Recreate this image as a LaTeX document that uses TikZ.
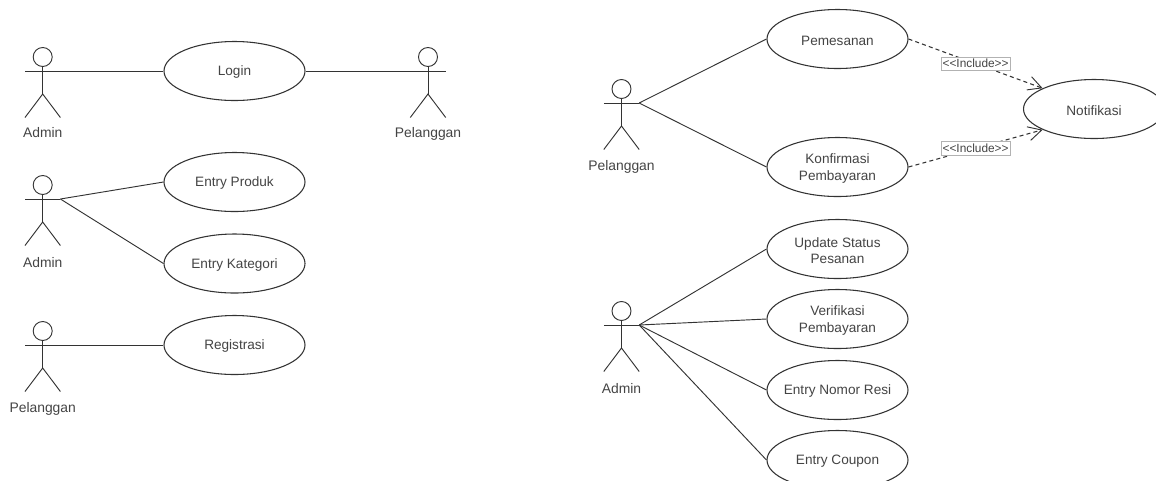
\documentclass[tikz,border=0pt]{standalone}
\usepackage{fontspec}
\setmainfont{Liberation Sans}
\usetikzlibrary{shapes.geometric,arrows.meta}
\definecolor{ink}{HTML}{333333}
\definecolor{txt}{HTML}{444444}
\newcommand{\tx}[1]{\raisebox{-1.1pt}[\height][\depth]{#1}}
\tikzset{
  usecase/.style={ellipse,draw=ink,line width=0.8pt,fill=white,minimum width=105.75pt,minimum height=44.25pt,inner xsep=-8pt,inner ysep=0pt,text=txt,font=\fontsize{10.2}{12.5}\selectfont,align=center},
  actorlabel/.style={text=txt,font=\fontsize{10.4}{12}\selectfont,inner sep=0pt},
  actorline/.style={draw=ink,line width=0.7pt},
  assoc/.style={draw=ink,line width=0.7pt},
  incl/.style={draw=ink,line width=0.8pt,dash pattern=on 3pt off 2.4pt,-{Straight Barb[length=10pt,width=10.5pt,line width=0.7pt]}},
  incllabel/.style={solid,draw=black!30,line width=0.5pt,fill=white,text=txt,font=\fontsize{8.9}{10}\selectfont,inner xsep=1.2pt,inner ysep=1.8pt},
}
% name, centre x, head top y, label text, label y
\newcommand{\actorfig}[5]{%
  \node[circle,draw=ink,line width=0.7pt,minimum size=14.25pt,inner sep=0pt] (#1-head) at (#2,#3+9.5) {};
  \coordinate (#1-l) at (#2-17.7,#3+23.5);
  \coordinate (#1-r) at (#2+17.7,#3+23.5);
  \coordinate (#1-hip) at (#2,#3+46.5);
  \coordinate (#1-fl) at (#2-17.7,#3+70);
  \coordinate (#1-fr) at (#2+17.7,#3+70);
  \draw[actorline] (#1-head.south) -- (#1-hip);
  \draw[actorline] (#1-l) -- (#1-r);
  \draw[actorline] (#1-fl) -- (#1-hip) -- (#1-fr);
  \node[actorlabel] (#1-label) at (#2,#5) {#4};
}
\begin{document}
\begin{tikzpicture}[x=0.75pt,y=-0.75pt]
\useasboundingbox (0,0) rectangle (1156,480);
\clip (0,0) rectangle (1156,480);
\actorfig{a1}{42.7}{47.5}{Admin}{133}
\actorfig{p1}{428}{47.5}{Pelanggan}{134}
\actorfig{a2}{42.7}{175.5}{Admin}{262.5}
\actorfig{p2}{42.7}{321.5}{Pelanggan}{408.5}
\actorfig{p3}{621.5}{79.5}{Pelanggan}{167}
\actorfig{a3}{621.5}{301.5}{Admin}{388.5}

\node[usecase] (login) at (234.5,71) {\tx{Login}};
\node[usecase] (produk) at (234.5,182) {\tx{Entry Produk}};
\node[usecase] (kategori) at (234.5,263.5) {\tx{Entry Kategori}};
\node[usecase] (registrasi) at (234.5,345) {\tx{Registrasi}};
\node[usecase] (pemesanan) at (837.5,39) {\tx{Pemesanan}};
\node[usecase] (konfirmasi) at (837.5,167) {\tx{Konfirmasi}\\\tx{Pembayaran}};
\node[usecase] (status) at (837.5,249) {\tx{Update Status}\\\tx{Pesanan}};
\node[usecase] (verifikasi) at (837.5,319) {\tx{Verifikasi}\\\tx{Pembayaran}};
\node[usecase] (resi) at (837.5,390) {\tx{Entry Nomor Resi}};
\node[usecase] (coupon) at (837.5,460) {\tx{Entry Coupon}};
\node[usecase] (notifikasi) at (1094,109) {\tx{Notifikasi}};

\draw[assoc] (a1-r) -- (login.west);
\draw[assoc] (login.east) -- (p1-r);
\draw[assoc] (a2-r) -- (produk.west);
\draw[assoc] (a2-r) -- (kategori.west);
\draw[assoc] (p2-r) -- (registrasi.west);
\draw[assoc] (p3-r) -- (pemesanan.west);
\draw[assoc] (p3-r) -- (konfirmasi.west);
\draw[assoc] (a3-r) -- (status.west);
\draw[assoc] (a3-r) -- (verifikasi.west);
\draw[assoc] (a3-r) -- (resi.west);
\draw[assoc] (a3-r) -- (coupon.west);

\draw[incl] (pemesanan.east) -- node[incllabel,pos=0.5] (inc1) {<{}<Include>{}>} (notifikasi.158);
\draw[incl] (konfirmasi.east) -- node[incllabel,pos=0.5] (inc2) {<{}<Include>{}>} (notifikasi.202);
\end{tikzpicture}
\end{document}
